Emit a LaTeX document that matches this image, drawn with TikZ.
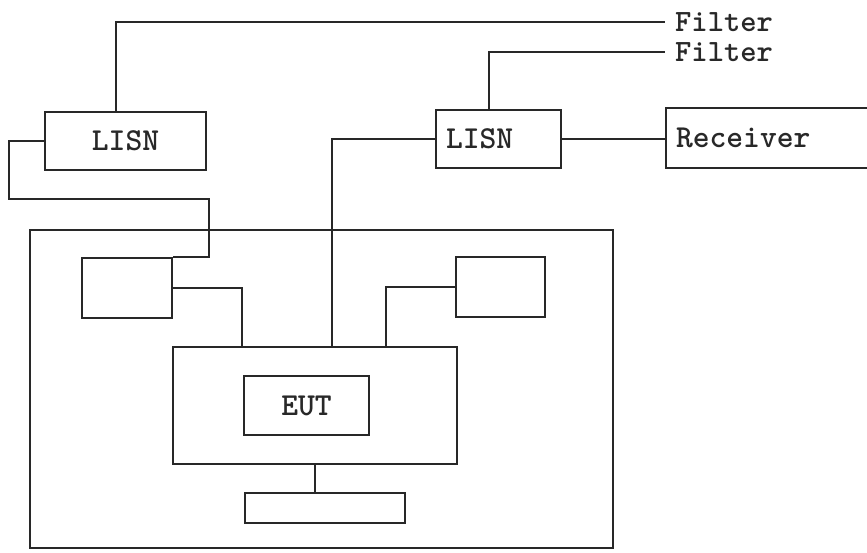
\documentclass[tikz,border=0pt]{standalone}
\usepackage{fontspec}
\usepackage{tikz}
\definecolor{inkgray}{RGB}{40,40,40}

\tikzset{
  box/.style={draw=inkgray,line width=2pt,minimum width=#1},
  lbox/.style={box=#1,align=left,inner xsep=10pt,text width=#1-20pt},
  wire/.style={draw=inkgray,line width=2pt},
  tag/.style={anchor=west,inner xsep=10pt,inner ysep=0pt,font=\ttfamily\bfseries\fontsize{31}{31}\selectfont},
}

\begin{document}
\begin{tikzpicture}[x=1pt,y=-1pt,font=\ttfamily\bfseries\fontsize{32}{34}\selectfont,text=inkgray]
  \clip (0,0) rectangle (867,552);
  % boxes outside the test setup
  \node[box=161pt,minimum height=58pt] (lisnA) at (125.5,141) {LISN};
  \node[lbox=125pt,minimum height=58pt] (lisnB) at (498.5,139) {LISN};
  \node[lbox=214pt,minimum height=60pt] (recv) at (773,138) {Receiver};
  \node[tag] (filterA) at (665,22) {Filter};
  \node[tag] (filterB) at (665,52) {Filter};
  % test setup
  \node[box=583pt,minimum height=318pt] (setup) at (321.5,389) {};
  \node[box=90pt,minimum height=60pt] (auxA) at (127,288) {};
  \node[box=89pt,minimum height=60pt] (auxB) at (500.5,287) {};
  \node[box=284pt,minimum height=117pt] (table) at (315,405.5) {};
  \node[box=125pt,minimum height=59pt] (eut) at (306.5,405.5) {EUT};
  \node[box=160pt,minimum height=30pt] (auxC) at (325,508) {};
  % wiring
  \draw[wire] ([xshift=-9.5pt]lisnA.north) |- (filterA.west);
  \draw[wire] ([xshift=-9.5pt]lisnB.north) |- (filterB.west);
  \draw[wire] (lisnB.east) -- (lisnB.east -| recv.west);
  \draw[wire] (lisnA.west) -- ++(-35,0) -- ++(0,58)
    -| ([xshift=36pt]auxA.north east) -- (auxA.north east);
  \draw[wire] (auxA.east) -| ([xshift=70pt]table.north west);
  \draw[wire] (auxB.west) -| ([xshift=-72pt]table.north east);
  \draw[wire] ([xshift=17pt]table.north) |- (lisnB.west);
  \draw[wire] (table.south) -- (table.south |- auxC.north);
\end{tikzpicture}
\end{document}
